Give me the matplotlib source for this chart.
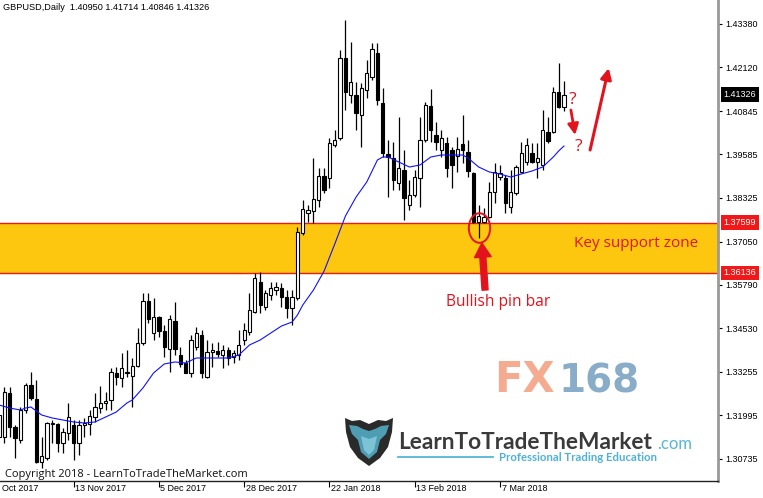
import matplotlib
matplotlib.use('Agg')
import matplotlib.pyplot as plt
import matplotlib.transforms as mtransforms
from matplotlib.patches import Ellipse, Polygon
from matplotlib.lines import Line2D
import numpy as np

plt.rcParams['font.family'] = ['Liberation Sans', 'DejaVu Sans']

# ---------------- data ----------------
title_text = "GBPUSD,Daily  1.40950 1.41714 1.40846 1.41326"

opens = [1.31361, 1.31361, 1.32642, 1.31652, 1.31274, 1.32147, 1.32875, 1.32467, 1.30634, 1.30750,
         1.31740, 1.31740, 1.31187, 1.31478, 1.31711, 1.31187, 1.31711, 1.31740, 1.31943, 1.32205,
         1.32351, 1.32438, 1.33224, 1.33078, 1.33224, 1.33136, 1.33427, 1.34097, 1.35319, 1.34388,
         1.34853, 1.34446, 1.33922, 1.34737, 1.33747, 1.33515, 1.33224, 1.33980, 1.34330, 1.33107,
         1.33835, 1.33864, 1.33747, 1.33893, 1.33689, 1.33747, 1.34184, 1.34417, 1.34999, 1.35872,
         1.35144, 1.35494, 1.35639, 1.35697, 1.35435, 1.35115, 1.35406, 1.37298, 1.37880, 1.37938,
         1.38258, 1.38956, 1.38898, 1.39859, 1.40062, 1.42390, 1.41314, 1.41314, 1.40732, 1.41459,
         1.41837, 1.42536, 1.41081, 1.39597, 1.39480, 1.38753, 1.39131, 1.38112, 1.38403, 1.38898,
         1.40004, 1.40993, 1.40150, 1.39713, 1.39917, 1.39713, 1.39538, 1.39888, 1.39655, 1.39044,
         1.37618, 1.37618, 1.37763, 1.38491, 1.38927, 1.38898, 1.38054, 1.38462, 1.39073, 1.39364,
         1.39626, 1.39364, 1.39277, 1.40237, 1.40237, 1.41401, 1.40950]
highs = [1.32089, 1.32816, 1.32816, 1.31711, 1.32234, 1.32933, 1.33253, 1.33020, 1.31361, 1.31798,
         1.31856, 1.31769, 1.31623, 1.32351, 1.31856, 1.31856, 1.31914, 1.32147, 1.32642, 1.32845,
         1.32671, 1.33369, 1.33398, 1.33806, 1.33893, 1.33660, 1.34533, 1.35552, 1.35552, 1.35406,
         1.34882, 1.34620, 1.34911, 1.35290, 1.33980, 1.33602, 1.34330, 1.34562, 1.34475, 1.34184,
         1.34097, 1.34126, 1.34039, 1.33980, 1.33893, 1.34475, 1.34679, 1.35552, 1.36134, 1.36163,
         1.35639, 1.35872, 1.35872, 1.35843, 1.35639, 1.35639, 1.37472, 1.38258, 1.38112, 1.39480,
         1.39189, 1.39189, 1.40062, 1.40295, 1.42623, 1.43496, 1.42856, 1.41692, 1.41663, 1.42332,
         1.42827, 1.42827, 1.41517, 1.40004, 1.39946, 1.40673, 1.39713, 1.38840, 1.39131, 1.40673,
         1.41110, 1.41488, 1.40528, 1.40295, 1.40091, 1.39800, 1.40091, 1.40732, 1.40004, 1.39073,
         1.38112, 1.38025, 1.38782, 1.39335, 1.39277, 1.38986, 1.39131, 1.39277, 1.39946, 1.40062,
         1.39917, 1.39917, 1.40877, 1.40673, 1.41546, 1.42245, 1.41714]
lows = [1.31274, 1.31187, 1.31361, 1.30750, 1.31187, 1.32060, 1.32438, 1.30605, 1.30459, 1.30692,
        1.31187, 1.30925, 1.30896, 1.31274, 1.30692, 1.30838, 1.31361, 1.31420, 1.31798, 1.32060,
        1.32147, 1.32147, 1.32875, 1.32816, 1.33107, 1.32234, 1.33398, 1.34039, 1.34679, 1.34184,
        1.34271, 1.33689, 1.33253, 1.33747, 1.33398, 1.33224, 1.33107, 1.33893, 1.33078, 1.33078,
        1.33398, 1.33689, 1.33369, 1.33457, 1.33515, 1.33602, 1.34039, 1.34330, 1.34970, 1.34970,
        1.35057, 1.35348, 1.35494, 1.35144, 1.34824, 1.34620, 1.35348, 1.37240, 1.37618, 1.37589,
        1.38054, 1.38462, 1.38607, 1.39800, 1.40004, 1.40877, 1.41081, 1.40295, 1.39800, 1.41226,
        1.41750, 1.41023, 1.39509, 1.38345, 1.38549, 1.38549, 1.37676, 1.37967, 1.38345, 1.38054,
        1.39946, 1.39946, 1.39713, 1.39509, 1.38927, 1.38607, 1.39073, 1.39335, 1.38927, 1.37589,
        1.37152, 1.37589, 1.37734, 1.38171, 1.38840, 1.37880, 1.37880, 1.38403, 1.39044, 1.39277,
        1.39335, 1.38898, 1.39131, 1.39917, 1.40208, 1.40935, 1.40846]
closes = [1.32002, 1.32671, 1.31652, 1.31332, 1.32147, 1.32875, 1.32496, 1.30634, 1.30808, 1.31769,
          1.31769, 1.31187, 1.31507, 1.31943, 1.31187, 1.31711, 1.31769, 1.31972, 1.32234, 1.32351,
          1.32409, 1.33253, 1.33107, 1.33369, 1.33253, 1.33427, 1.34097, 1.35319, 1.34795, 1.34853,
          1.34446, 1.33980, 1.34795, 1.33922, 1.33486, 1.33224, 1.34184, 1.34388, 1.33224, 1.33835,
          1.33893, 1.33777, 1.33893, 1.33660, 1.33806, 1.34039, 1.34475, 1.35057, 1.35988, 1.35203,
          1.35552, 1.35697, 1.35726, 1.35435, 1.35115, 1.35435, 1.37327, 1.37996, 1.37967, 1.38287,
          1.38956, 1.38549, 1.39917, 1.40004, 1.42390, 1.41401, 1.41692, 1.40790, 1.41517, 1.41954,
          1.42652, 1.41168, 1.39626, 1.39509, 1.38840, 1.39189, 1.38316, 1.38403, 1.38927, 1.40004,
          1.41023, 1.40295, 1.39946, 1.40062, 1.39189, 1.39277, 1.39742, 1.39713, 1.39102, 1.37618,
          1.37792, 1.37763, 1.38491, 1.39073, 1.39044, 1.38171, 1.38491, 1.39218, 1.39626, 1.39859,
          1.39364, 1.39480, 1.40295, 1.39975, 1.41401, 1.40964, 1.41326]

ma_idx = [0, 2, 4, 5, 6, 7, 8, 10, 12, 14, 16, 18, 20, 22, 24, 25, 27, 29, 31, 33,
          35, 37, 40, 43, 45, 47, 49, 51, 53, 55, 56, 57, 59, 61, 63, 65, 67, 69, 71, 72,
          73, 75, 77, 79, 81, 83, 85, 87, 88, 90, 92, 94, 96, 98, 100, 102, 104, 105, 106]
ma_vals = [1.32293, 1.32205, 1.32147, 1.32205, 1.32234, 1.32118, 1.32002, 1.31914, 1.31856, 1.31798,
           1.31769, 1.31798, 1.31943, 1.32089, 1.32351, 1.32438, 1.32787, 1.33224, 1.33486, 1.33544,
           1.33515, 1.33660, 1.33660, 1.33660, 1.33747, 1.34039, 1.34184, 1.34388, 1.34591, 1.34708,
           1.34911, 1.35203, 1.35639, 1.36192, 1.36978, 1.37792, 1.38345, 1.38782, 1.39422, 1.39509,
           1.39509, 1.39364, 1.39218, 1.39277, 1.39509, 1.39568, 1.39568, 1.39568, 1.39480, 1.39218,
           1.39073, 1.39015, 1.38927, 1.39015, 1.39102, 1.39218, 1.39509, 1.39684, 1.39829]

ytick_vals = [1.43380, 1.42120, 1.40845, 1.39585, 1.38325, 1.37050, 1.35790, 1.34530,
              1.33255, 1.31995, 1.30735]
ytick_labels = ["1.43380", "1.42120", "1.40845", "1.39585", "1.38325", "1.37050", "1.35790",
                "1.34530", "1.33255", "1.31995", "1.30735"]
xtick_pos = [14, 30, 46, 62, 78, 94]
xtick_labels = ["13 Nov 2017", "5 Dec 2017", "28 Dec 2017",
                "22 Jan 2018", "13 Feb 2018", "7 Mar 2018"]
first_label = "Oct 2017"   # left-most date label, partly scrolled off in the original

zone_low, zone_high = 1.36136, 1.37599
last_price = 1.41326
pin_bar_idx = 90

RED = '#E3131E'
W, H = 763, 498

# ---------------- figure ----------------
fig = plt.figure(figsize=(W / 100, H / 100), dpi=100)
ax = fig.add_axes([0, 17 / H, 718 / W, 481 / H])
ax.set_xlim(0.19, 134.9)
ax.set_ylim(1.30081, 1.44078)

x = np.arange(len(opens))
o = np.array(opens); h = np.array(highs); l = np.array(lows); c = np.array(closes)

# support zone
ax.axhspan(zone_low, zone_high, color='#FDC70F', zorder=1, lw=0)
ax.axhline(zone_low, color='#F01818', lw=1.0, zorder=1.5)
ax.axhline(zone_high, color='#F01818', lw=1.0, zorder=1.5)

# candles
ax.vlines(x, l, h, color='black', lw=0.9, zorder=3)
bull = c >= o
bw = 0.62
ax.bar(x[bull], (c - o)[bull], bottom=o[bull], width=bw, facecolor='white',
       edgecolor='black', linewidth=0.8, zorder=4)
ax.bar(x[~bull], (o - c)[~bull], bottom=c[~bull], width=bw, facecolor='black',
       edgecolor='black', linewidth=0.8, zorder=4)

# moving average
ax.plot(ma_idx, ma_vals, color='#1010FF', lw=0.8, zorder=5)

# spines / ticks
ax.spines['top'].set_visible(False)
ax.spines['left'].set_visible(False)
ax.spines['right'].set_color('#999999')
ax.spines['right'].set_linewidth(2)
ax.spines['bottom'].set_color('#222222')
ax.spines['bottom'].set_linewidth(1)
ax.yaxis.tick_right()
ax.set_yticks(ytick_vals)
ax.set_yticklabels(ytick_labels)
ax.tick_params(axis='y', direction='out', length=3, width=0.8, pad=2,
               labelsize=6.5, colors='black')
ax.set_xticks(xtick_pos)
ax.set_xticklabels([])
ax.tick_params(axis='x', direction='out', length=4, width=0.8, colors='black')

xtrans = mtransforms.offset_copy(
    mtransforms.blended_transform_factory(ax.transData, ax.transAxes),
    fig=fig, x=1.5, y=0, units='dots')
for pos, lab in zip(xtick_pos, xtick_labels):
    ax.text(pos, -7 / 481, lab, transform=xtrans, ha='left', va='center',
            fontsize=6.5, clip_on=False)
fig.text(2 / W, 1 - 488 / H, first_label, fontsize=6.5, ha='left', va='center')

# price tags on the axis
ytrans = mtransforms.blended_transform_factory(ax.transAxes, ax.transData)
ax.text(1.0075, last_price, f"{last_price:.5f}", transform=ytrans, ha='left', va='center',
        fontsize=6.5, color='white', clip_on=False, zorder=10,
        bbox=dict(boxstyle='square,pad=0.3', fc='black', ec='none'))
for v in (zone_high, zone_low):
    ax.text(1.0075, v, f"{v:.5f}", transform=ytrans, ha='left', va='center',
            fontsize=6.5, color='white', clip_on=False, zorder=10,
            bbox=dict(boxstyle='square,pad=0.3', fc='#F01818', ec='none'))

# annotations
ax.add_patch(Ellipse((pin_bar_idx + 0.15, 1.37443), width=4.0, height=0.0086,
                     fill=False, ec=RED, lw=1.4, zorder=7))
ax.annotate('', xy=(pin_bar_idx + 0.6, 1.37007), xytext=(pin_bar_idx + 1.2, 1.35639),
            arrowprops=dict(arrowstyle='simple,head_length=0.85,head_width=1.0,tail_width=0.36',
                            mutation_scale=12, color=RED, shrinkA=0, shrinkB=0), zorder=7)
ax.text(pin_bar_idx + 3.6, 1.35290, 'Bullish pin bar', color=RED, fontsize=11.2,
        family=['Open Sans', 'DejaVu Sans'], ha='center', va='center', zorder=7)
ax.text(119.6, 1.36978, 'Key support zone', color=RED, fontsize=11,
        family=['Open Sans', 'DejaVu Sans'], ha='center', va='center', zorder=7)

ax.text(107.6, 1.41168, '?', color=RED, fontsize=12.5, family=['Open Sans', 'DejaVu Sans'],
        ha='center', va='center', zorder=7)
ax.text(108.7, 1.39801, '?', color=RED, fontsize=12.5, family=['Open Sans', 'DejaVu Sans'],
        ha='center', va='center', zorder=7)
ax.annotate('', xy=(108.1, 1.40150), xytext=(107.3, 1.40877),
            arrowprops=dict(arrowstyle='-|>', lw=2.0, color=RED, mutation_scale=16,
                            shrinkA=0, shrinkB=0), zorder=7)
ax.annotate('', xy=(114.4, 1.42099), xytext=(110.9, 1.39713),
            arrowprops=dict(arrowstyle='-|>', lw=2.2, color=RED, mutation_scale=16,
                            shrinkA=0, shrinkB=0), zorder=7)

# ---------------- header / footer text ----------------
def fp(px, py):
    return px / W, 1 - py / H

fig.text(*fp(3, 7), title_text, fontsize=6.6, ha='left', va='center', color='black')
fig.text(*fp(5, 474), 'Copyright 2018 - LearnToTradeTheMarket.com', fontsize=8,
         family=['Open Sans', 'DejaVu Sans'], ha='left', va='center', color='#111111')

# FX168 watermark
fig.text(*fp(494, 392), 'FX', fontsize=30, fontweight='bold', color='#F5AB90',
         family=['DejaVu Sans'], ha='left', va='baseline')
fig.text(*fp(559, 392), '168', fontsize=28, fontweight='bold', color='#89ADC8',
         family=['DejaVu Sans'], ha='left', va='baseline')

# LearnToTradeTheMarket logo
fig.text(*fp(398, 449), 'LearnToTradeTheMarket', fontsize=16.3, fontweight='bold',
         color='#3A3A3A', family=['Lato', 'DejaVu Sans'], ha='left', va='baseline')
fig.text(*fp(657, 449), '.com', fontsize=12, color='#55B8D6',
         family=['Lato', 'DejaVu Sans'], ha='left', va='baseline')
fig.text(*fp(499, 457), 'Professional Trading Education', fontsize=8.2, fontweight='bold',
         color='#4DB1D8', family=['Lato', 'DejaVu Sans'], ha='left', va='center')
fig.add_artist(Line2D([398 / W, 493 / W], [1 - 457 / H, 1 - 457 / H], color='#55B8D6', lw=1.3))

shield = [(345, 418), (352, 421), (360, 420), (369, 424), (378, 420), (386, 421), (393, 418),
          (392, 432), (388, 447), (380, 458), (369, 466), (358, 458), (350, 447), (346, 432)]
fig.add_artist(Polygon([fp(*p) for p in shield], closed=True, fc='#2A2A2A', ec='none'))
inner = [(349, 425), (357, 426), (363, 429), (369, 431), (375, 429), (381, 426), (389, 425),
         (386, 434), (380, 440), (377, 452), (369, 459), (361, 452), (358, 440), (352, 434)]
fig.add_artist(Polygon([fp(*p) for p in inner], closed=True, fc='#4E9DB3', ec='none'))
face = [(361, 436), (369, 439), (377, 436), (374, 450), (369, 455), (364, 450)]
fig.add_artist(Polygon([fp(*p) for p in face], closed=True, fc='#7CC3D6', ec='none'))

fig.savefig('out.png', dpi=100)
